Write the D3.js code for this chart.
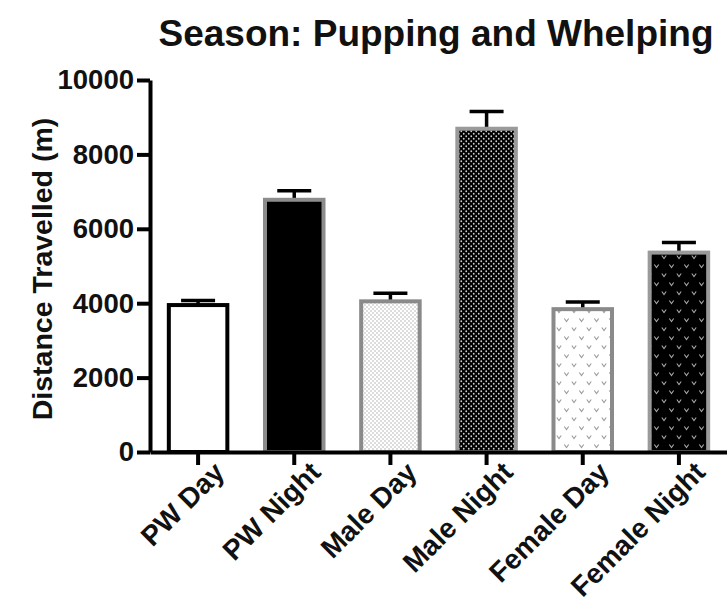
<!DOCTYPE html>
<html>
<head>
<meta charset="utf-8">
<script src="https://cdn.jsdelivr.net/npm/d3@7"></script>
<style>
  html, body { margin: 0; padding: 0; background: #fff; }
  svg { display: block; font-family: "Liberation Sans", Arial, Helvetica, sans-serif; }
</style>
</head>
<body>
<svg id="chart" width="727" height="615"></svg>
<script>
// Distance travelled per group, pupping and whelping season (mean and SEM)
const categories = ["PW Day", "PW Night", "Male Day", "Male Night", "Female Day", "Female Night"];
const meanDistance = [3950, 6780, 4050, 8690, 3840, 5360];
const semDistance = [120, 240, 215, 460, 195, 270];
const yTicks = [0, 2000, 4000, 6000, 8000, 10000];
const chartTitle = "Season: Pupping and Whelping";
const yTitle = "Distance Travelled (m)";

// Fill / outline per bar
const barFills = ["#ffffff", "#000000", "url(#dotsLight)", "url(#dotsDark)", "url(#veeLight)", "url(#veeDark)"];
const barStrokes = ["#000000", "#8c8c8c", "#8a8a8a", "#9a9a9a", "#8a8a8a", "#9a9a9a"];

const svg = d3.select("#chart");
const defs = svg.append("defs");

// Fine dot textures
function dotPattern(id, bg, dot, size, r) {
  const p = defs.append("pattern").attr("id", id)
    .attr("patternUnits", "userSpaceOnUse").attr("width", size).attr("height", size);
  p.append("rect").attr("width", size).attr("height", size).attr("fill", bg);
  p.append("circle").attr("cx", size / 4).attr("cy", size / 4).attr("r", r).attr("fill", dot);
  p.append("circle").attr("cx", size * 3 / 4).attr("cy", size * 3 / 4).attr("r", r).attr("fill", dot);
}
dotPattern("dotsLight", "#ffffff", "#a8a8a8", 4, 0.75);
dotPattern("dotsDark", "#000000", "#d0d0d0", 5, 0.9);

// Small "v" mark textures
function veePattern(id, bg, mark) {
  const w = 15, h = 18;
  const p = defs.append("pattern").attr("id", id)
    .attr("patternUnits", "userSpaceOnUse").attr("width", w).attr("height", h);
  p.append("rect").attr("width", w).attr("height", h).attr("fill", bg);
  [[4, 5], [11.5, 14]].forEach(([cx, cy]) => {
    p.append("path")
      .attr("d", `M${cx - 2.2},${cy - 1.5} L${cx},${cy + 1.5} L${cx + 2.2},${cy - 1.5}`)
      .attr("fill", "none").attr("stroke", mark).attr("stroke-width", 1.1);
  });
}
veePattern("veeLight", "#ffffff", "#9a9a9a");
veePattern("veeDark", "#000000", "#a8a8a8");

const x = d3.scaleBand()
  .domain(categories)
  .range([150, 727])
  .paddingInner(0.35)
  .paddingOuter(0.175);

const y = d3.scaleLinear().domain([0, 10000]).range([452, 80]);

// Title
svg.append("text")
  .attr("x", 436).attr("y", 46)
  .attr("text-anchor", "middle")
  .attr("font-size", 37).attr("font-weight", "bold")
  .attr("fill", "#111")
  .text(chartTitle);

// Y axis title
svg.append("text")
  .attr("transform", `translate(52,${(y(0) + y(10000)) / 2 + 3}) rotate(-90)`)
  .attr("text-anchor", "middle")
  .attr("font-size", 28.5).attr("font-weight", "bold")
  .attr("fill", "#111")
  .text(yTitle);

// Error bars (upper only), drawn under the bars
const err = svg.append("g").attr("stroke", "#000").attr("stroke-width", 3.5);
categories.forEach((c, i) => {
  const cx = x(c) + x.bandwidth() / 2;
  const top = y(meanDistance[i] + semDistance[i]);
  err.append("line")
    .attr("x1", cx).attr("x2", cx)
    .attr("y1", y(meanDistance[i])).attr("y2", top);
  err.append("line")
    .attr("x1", cx - 17).attr("x2", cx + 17)
    .attr("y1", top).attr("y2", top);
});

// Bars
svg.append("g").selectAll("rect")
  .data(categories)
  .join("rect")
  .attr("x", d => x(d) + 2)
  .attr("width", x.bandwidth() - 4)
  .attr("y", (d, i) => y(meanDistance[i]))
  .attr("height", (d, i) => y(0) - y(meanDistance[i]))
  .attr("fill", (d, i) => barFills[i])
  .attr("stroke", (d, i) => barStrokes[i])
  .attr("stroke-width", 4);

// Y axis
const yAxis = svg.append("g")
  .attr("transform", "translate(150,0)")
  .call(d3.axisLeft(y).tickValues(yTicks).tickFormat(d3.format("d")).tickSize(13).tickSizeOuter(0).tickPadding(3));
yAxis.select(".domain").attr("stroke", "#000").attr("stroke-width", 4);
yAxis.selectAll(".tick line").attr("stroke", "#000").attr("stroke-width", 4);
yAxis.selectAll(".tick text")
  .attr("font-size", 27.5).attr("font-weight", "bold")
  .attr("font-family", "Liberation Sans, Arial, sans-serif")
  .attr("fill", "#111");

// X axis
const xAxis = svg.append("g")
  .attr("transform", `translate(0,${y(0)})`)
  .call(d3.axisBottom(x).tickSize(13).tickSizeOuter(0).tickPadding(4));
xAxis.select(".domain").attr("stroke", "#000").attr("stroke-width", 4);
xAxis.selectAll(".tick line").attr("stroke", "#000").attr("stroke-width", 4);
xAxis.selectAll(".tick text")
  .attr("font-size", 28).attr("font-weight", "bold")
  .attr("font-family", "Liberation Sans, Arial, sans-serif")
  .attr("fill", "#111")
  .attr("text-anchor", "end")
  .attr("dy", null)
  .attr("transform", "translate(16,10) rotate(-45)");
</script>
</body>
</html>
